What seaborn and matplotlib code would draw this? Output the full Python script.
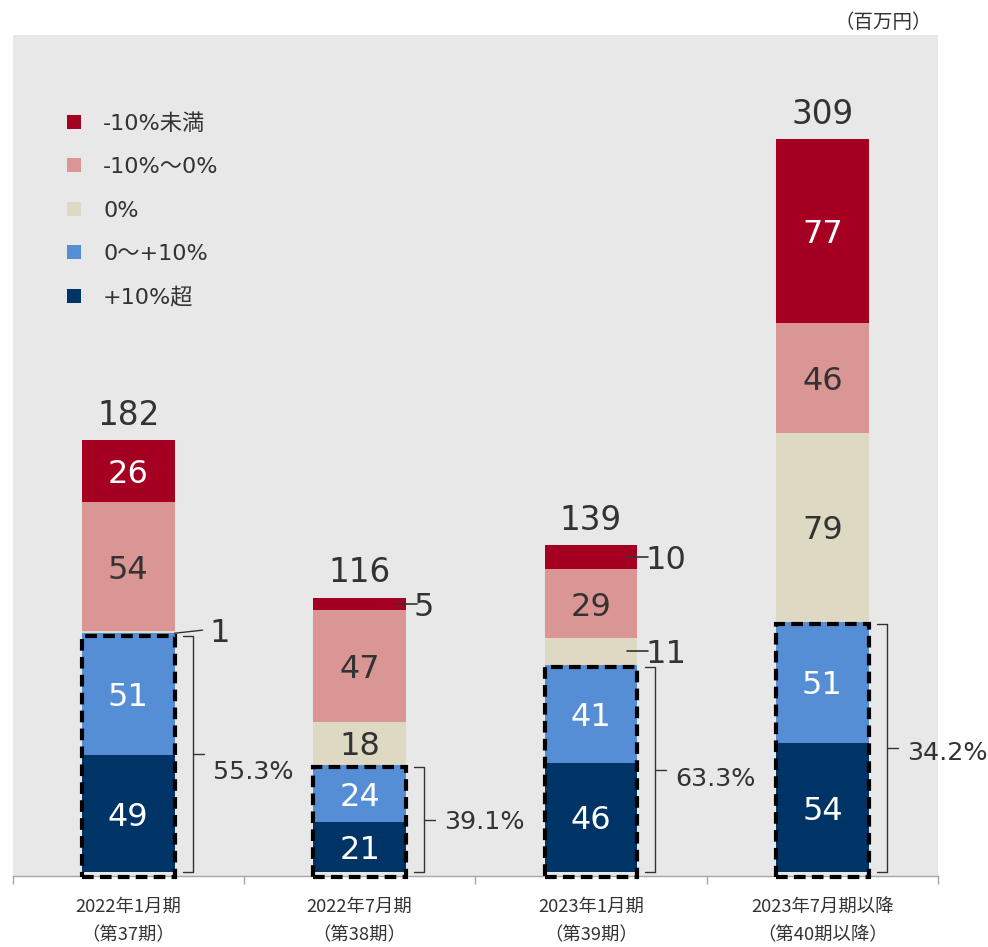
import numpy as np
import matplotlib
matplotlib.use("Agg")
import matplotlib.pyplot as plt
import seaborn as sns
from matplotlib.patches import Rectangle
from matplotlib.lines import Line2D

# ---------------- data ----------------
categories = ["2022年1月期\n（第37期）", "2022年7月期\n（第38期）",
              "2023年1月期\n（第39期）", "2023年7月期以降\n（第40期以降）"]
series_names = ["+10%超", "0〜+10%", "0%", "-10%〜0%", "-10%未満"]  # bottom -> top
over_10 = [49, 21, 46, 54]
zero_to_10 = [51, 24, 41, 51]
zero = [1, 18, 11, 79]
minus10_to_0 = [54, 47, 29, 46]
under_minus10 = [26, 5, 10, 77]
totals = [182, 116, 139, 309]
positive_share = ["55.3%", "39.1%", "63.3%", "34.2%"]
unit_label = "（百万円）"

# ---------------- style ----------------
colors = ["#003366", "#558ED5", "#DDD9C3", "#DA9694", "#A50021"]
label_colors = ["white", "white", "#333333", "#333333", "white"]
TXT = "#333333"

sns.set_style("white")
plt.rcParams['font.family'] = ['DejaVu Sans', 'Noto Sans CJK JP']

fig = plt.figure(figsize=(9.88, 9.47), dpi=100)
L, R = 12.6 / 988, 938 / 988
T, Bt = 35 / 947, 876 / 947
ax = fig.add_axes([L, 1 - Bt, R - L, Bt - T])
ax.set_facecolor("#E8E8E8")

series = [over_10, zero_to_10, zero, minus10_to_0, under_minus10]
bottom = np.zeros(len(categories))
bottoms = []
for vals, col in zip(series, colors):
    bottoms.append(bottom.copy())
    sns.barplot(x=categories, y=vals, bottom=bottom.copy(), color=col,
                saturation=1, width=0.4, errorbar=None, linewidth=0, ax=ax,
                zorder=2)
    bottom = bottom + np.array(vals)
stack_tops = bottom

ax.set_xlim(-0.5, 3.5)
ax.set_ylim(-1.5, 350.5)

# ---------------- value labels ----------------
outside = {(0, 2), (1, 4), (2, 4), (2, 2)}
half_w = 0.2
for s, (vals, lc) in enumerate(zip(series, label_colors)):
    for i, v in enumerate(vals):
        yc = bottoms[s][i] + v / 2
        if (i, s) in outside:
            xr = i + half_w
            if i == 0:
                ax.plot([xr, xr + 0.121], [yc - 0.4, yc + 0.9], color=TXT,
                        lw=1, zorder=6, clip_on=False)
                ax.text(xr + 0.15, yc + 0.9, str(v), ha="left", va="center_baseline",
                        fontsize=23, color=TXT, zorder=6)
            else:
                ax.plot([xr - 0.043, xr + 0.047], [yc, yc], color=TXT,
                        lw=1.2, zorder=6)
                ax.text(xr + 0.035, yc, str(v), ha="left", va="center_baseline",
                        fontsize=23, color=TXT, zorder=6)
        else:
            ax.text(i, yc, str(v), ha="center", va="center_baseline",
                    fontsize=23, color=lc, zorder=6)

for i, t in enumerate(totals):
    ax.annotate(str(t), xy=(i, stack_tops[i]), xytext=(0, 6),
                textcoords="offset points", ha="center", va="bottom",
                fontsize=23.5, color=TXT)

# ---------------- dashed boxes & brackets ----------------
pct_dy = [-6.5, 0, -3, -1]
for i in range(len(categories)):
    s = over_10[i] + zero_to_10[i]
    ax.add_patch(Rectangle((i - half_w, -1.9), 2 * half_w, s - 1 + 1.9,
                           fill=False, ec="black", lw=3,
                           ls=(0, (2.8, 1.5)), zorder=7, clip_on=False))
    xv = i + half_w + 0.078
    yt, yb = s - 1, 0
    ax.plot([xv - 0.043, xv, xv, xv - 0.043], [yt, yt, yb, yb], color=TXT,
            lw=1, zorder=6)
    mid = (yt + yb) / 2
    ax.plot([xv, xv + 0.048], [mid, mid], color=TXT, lw=1, zorder=6)
    ax.text(xv + 0.088, mid + pct_dy[i], positive_share[i], ha="left",
            va="center_baseline", fontsize=18.3, color=TXT, zorder=6)

# ---------------- axes ----------------
for sp in ["left", "right", "top"]:
    ax.spines[sp].set_visible(False)
ax.spines["bottom"].set_color("#A6A6A6")
ax.spines["bottom"].set_linewidth(1)
ax.set_yticks([])
ax.set_ylabel("")
ax.set_xticks([-0.5, 0.5, 1.5, 2.5, 3.5])
ax.set_xticklabels([])
ax.tick_params(axis="x", which="major", bottom=True, length=6,
               color="#A6A6A6", width=1, direction="out")
ax.set_xticks(range(len(categories)), minor=True)
ax.set_xticklabels(categories, minor=True, fontsize=13.2, color=TXT,
                   fontfamily="Noto Sans CJK JP", linespacing=1.72)
ax.tick_params(axis="x", which="minor", bottom=True, length=0, pad=16)

ax.text(0.994, 1.0145, unit_label, transform=ax.transAxes, ha="right",
        va="center", fontsize=14, color=TXT, fontfamily="Noto Sans CJK JP")

# ---------------- legend ----------------
handles = [Line2D([], [], marker="s", ls="", markersize=9.5, color=c,
                  markeredgewidth=0) for c in colors[::-1]]
ax.legend(handles, series_names[::-1], loc="upper left",
          bbox_to_anchor=(0.0545, 0.907), frameon=False, fontsize=16,
          labelspacing=1.05, handlelength=0.95, handletextpad=0.85,
          borderpad=0, borderaxespad=0, labelcolor=TXT)

fig.savefig("out.png", dpi=100)
